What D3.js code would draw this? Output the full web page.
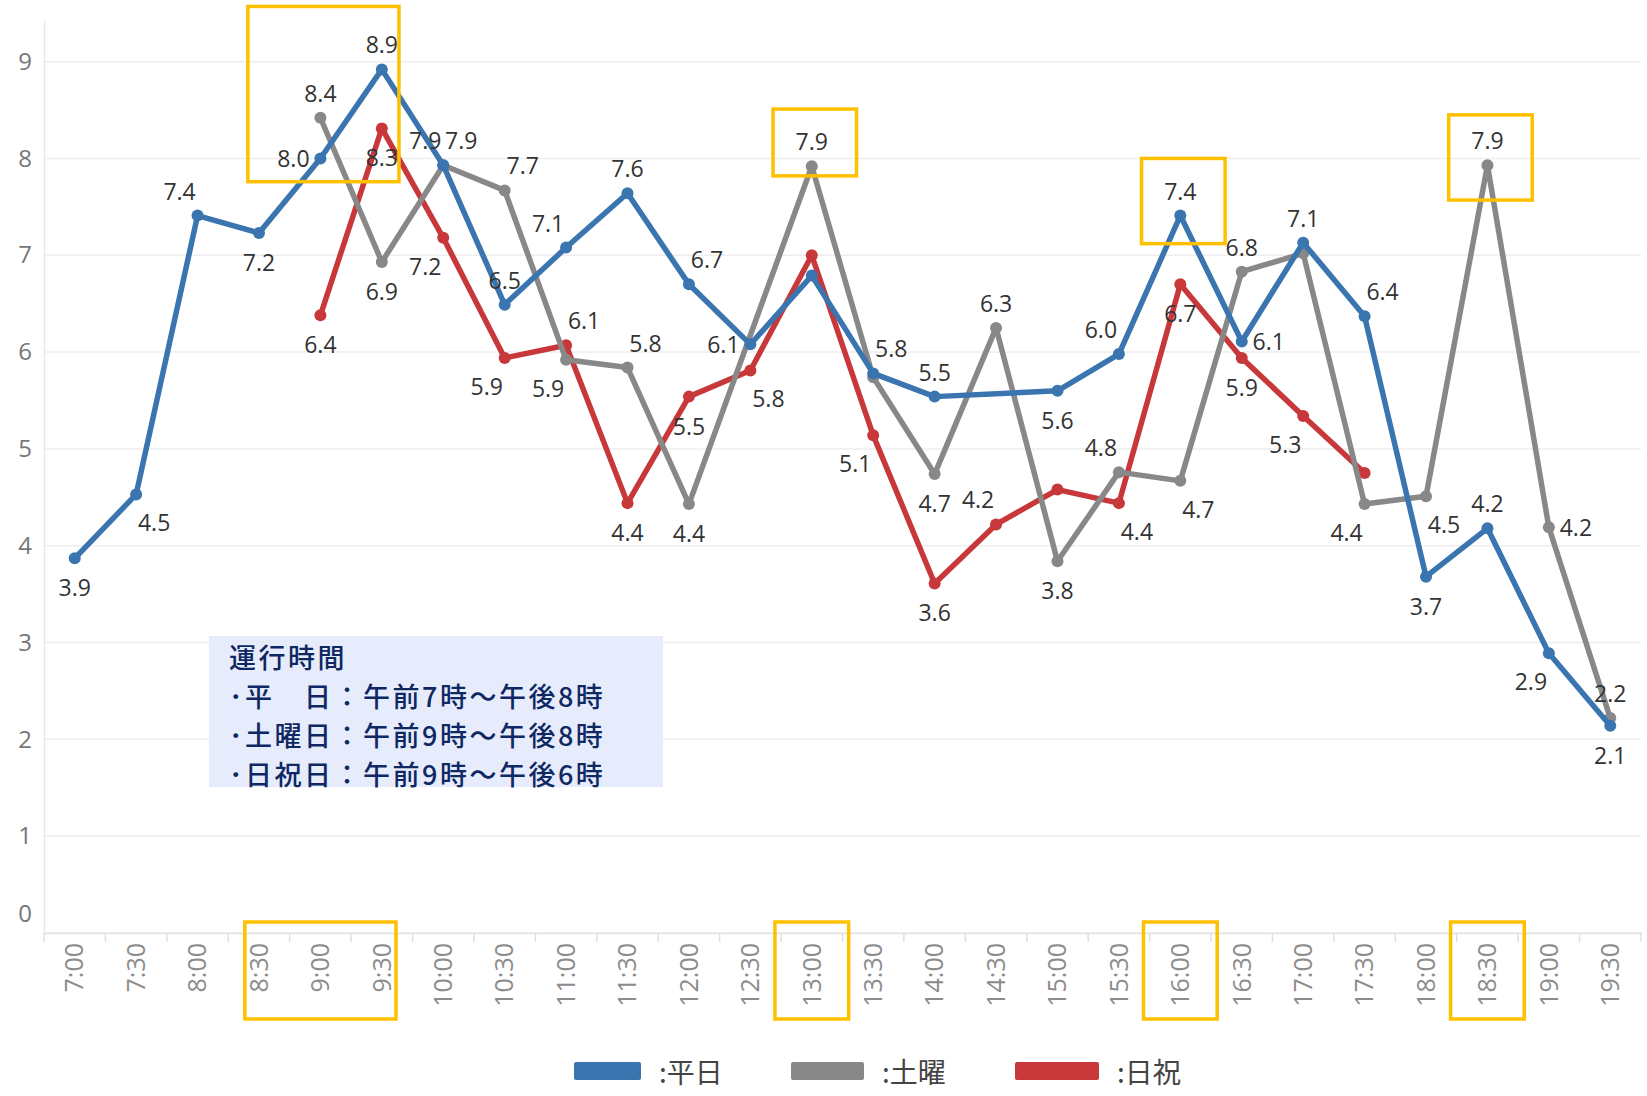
<!DOCTYPE html>
<html>
<head>
<meta charset="utf-8">
<script src="https://cdn.jsdelivr.net/npm/d3@7"></script>
<style>
  body { margin: 0; background: #fff; }
  .axis text { font-family: "Open Sans", sans-serif; }
  .label { font-family: "Open Sans", sans-serif; font-size: 23px; fill: #333; }
  .note, .legend text { font-family: "Noto Sans CJK JP", sans-serif; }
</style>
</head>
<body>
<div id="chart"></div>
<script>
// time slots on the x axis
var times = ["7:00", "7:30", "8:00", "8:30", "9:00", "9:30", "10:00", "10:30", "11:00", "11:30",
    "12:00", "12:30", "13:00", "13:30", "14:00", "14:30", "15:00", "15:30", "16:00", "16:30",
    "17:00", "17:30", "18:00", "18:30", "19:00", "19:30"];

// series values (null = no value for that slot)
var weekday = [3.87, 4.53, 7.41, 7.23, 8.0, 8.92, 7.93, 6.49, 7.08, 7.64, 6.7, 6.08, 6.79, 5.78,
    5.54, null, 5.6, 5.98, 7.41, 6.11, 7.13, 6.37, 3.68, 4.18, 2.89, 2.14];
var saturday = [null, null, null, null, 8.42, 6.93, 7.93, 7.67, 5.92, 5.84, 4.43, null, 7.92, 5.74,
    4.74, 6.25, 3.84, 4.76, 4.67, 6.83, 7.02, 4.43, 4.51, 7.93, 4.19, 2.22];
var holiday = [null, null, null, null, 6.38, 8.31, 7.18, 5.94, 6.07, 4.44, 5.54, 5.81, 7.0, 5.14,
    3.61, 4.22, 4.58, 4.44, 6.7, 5.94, 5.34, 4.75, null, null, null, null];

var seriesNames = ["平日", "土曜", "日祝"];
var yTicks = [0, 1, 2, 3, 4, 5, 6, 7, 8, 9];

var noteLines = ["運行時間", "･平　日：午前7時～午後8時", "･土曜日：午前9時～午後8時", "･日祝日：午前9時～午後6時"];

// highlighted slots (yellow frames)
var highlightTimes = ["9:00", "13:00", "16:00", "18:30"];
var highlightTop = [9.57, 8.51, 8.0, 8.45];
var highlightBottom = [7.76, 7.82, 7.12, 7.57];

// where each value label sits relative to its point
var weekdayLabelPos = ["b", "br", "tl", "b", "l", "t", "tl", "t", "tl", "t", "tr", "l", "", "tr",
    "t", "", "b", "tl", "t", "r", "t", "tr", "b", "t", "bl", "b"];
var saturdayLabelPos = ["", "", "", "", "t", "b", "tr", "tr", "bl", "tr", "b", "", "t", "",
    "b", "t", "b", "tl", "br", "t", "", "bl", "br", "t", "r", "t"];
var holidayLabelPos = ["", "", "", "", "b", "b", "bl", "bl", "tr", "b", "b", "br", "", "bl",
    "b", "tl", "", "br", "b", "b", "bl", "", "", "", "", ""];

var colors = ["#3a75af", "#888888", "#c8383a"];

var width = 1647, height = 1096;
var plotLeft = 44, plotRight = 1641, plotTop = 20, plotBottom = 933;

var svg = d3.select("#chart").append("svg")
    .attr("width", width)
    .attr("height", height);

var x = d3.scaleBand()
    .domain(times)
    .range([plotLeft, plotRight]);

var y = d3.scaleLinear()
    .domain([0, 9.43])
    .range([plotBottom, plotTop]);

function cx(t) {
    return x(t) + x.bandwidth() / 2;
}

// gridlines
svg.append("g")
    .selectAll("line")
    .data(yTicks)
    .enter()
    .append("line")
    .attr("x1", plotLeft)
    .attr("x2", plotRight)
    .attr("y1", function(d) { return y(d); })
    .attr("y2", function(d) { return y(d); })
    .attr("stroke", "#eeeeee")
    .attr("stroke-width", 1.5);

// y axis
var yAxisGroup = svg.append("g")
    .attr("class", "axis")
    .attr("transform", "translate(" + plotLeft + ",0)")
    .call(d3.axisLeft(y).tickValues(yTicks).tickSize(0).tickSizeOuter(0).tickPadding(12));

yAxisGroup.select(".domain").attr("stroke", "#e8e8e8").attr("stroke-width", 1.5);
yAxisGroup.selectAll("text")
    .attr("font-size", 24)
    .attr("fill", "#777");
yAxisGroup.selectAll(".tick")
    .filter(function(d) { return d === 0; })
    .select("text")
    .attr("y", -19);

// x axis
var xAxisGroup = svg.append("g")
    .attr("class", "axis")
    .attr("transform", "translate(0," + plotBottom + ")")
    .call(d3.axisBottom(x).tickSize(0).tickSizeOuter(0));

xAxisGroup.select(".domain").attr("stroke", "#e4e4e4").attr("stroke-width", 1.5);
xAxisGroup.selectAll("text")
    .attr("transform", "rotate(-90)")
    .attr("text-anchor", "end")
    .attr("x", -10)
    .attr("y", 0)
    .attr("dy", "0.35em")
    .attr("font-size", 25)
    .attr("fill", "#8c8c8c");

// separators between slots
svg.append("g")
    .selectAll("line")
    .data(times.concat(["end"]))
    .enter()
    .append("line")
    .attr("x1", function(d, i) { return plotLeft + i * x.step(); })
    .attr("x2", function(d, i) { return plotLeft + i * x.step(); })
    .attr("y1", plotBottom)
    .attr("y2", plotBottom + 9)
    .attr("stroke", "#e0e0e0")
    .attr("stroke-width", 1.5);

// operating hours note
var note = svg.append("g").attr("class", "note");
note.append("rect")
    .attr("x", 209)
    .attr("y", 636)
    .attr("width", 454)
    .attr("height", 151)
    .attr("fill", "#e6ecfb");
note.selectAll("text")
    .data(noteLines)
    .enter()
    .append("text")
    .attr("x", 229)
    .attr("y", function(d, i) { return 656 + i * 39; })
    .attr("dominant-baseline", "central")
    .attr("font-size", 27)
    .attr("font-weight", 500)
    .attr("letter-spacing", 2.5)
    .attr("fill", "#0f2864")
    .text(function(d) { return d; });

// lines, drawn holiday -> saturday -> weekday
var series = [
    {name: seriesNames[2], values: holiday, pos: holidayLabelPos, color: colors[2]},
    {name: seriesNames[1], values: saturday, pos: saturdayLabelPos, color: colors[1]},
    {name: seriesNames[0], values: weekday, pos: weekdayLabelPos, color: colors[0]}
];

series.forEach(function(s) {
    s.points = times.map(function(t, i) {
        return {t: t, v: s.values[i], pos: s.pos[i]};
    }).filter(function(d) { return d.v != null; });
});

var line = d3.line()
    .x(function(d) { return cx(d.t); })
    .y(function(d) { return y(d.v); });

series.forEach(function(s) {
    var g = svg.append("g");
    g.append("path")
        .datum(s.points)
        .attr("d", line)
        .attr("fill", "none")
        .attr("stroke", s.color)
        .attr("stroke-width", 5.5)
        .attr("stroke-linejoin", "round")
        .attr("stroke-linecap", "round");
    g.selectAll("circle")
        .data(s.points)
        .enter()
        .append("circle")
        .attr("cx", function(d) { return cx(d.t); })
        .attr("cy", function(d) { return y(d.v); })
        .attr("r", 6)
        .attr("fill", s.color);
});

// value labels
var offsets = {
    t: [0, -25], b: [0, 29], l: [-27, 0], r: [27, 0],
    tl: [-18, -25], tr: [18, -25], bl: [-18, 28], br: [18, 28]
};
var fmt = d3.format(".1f");

series.forEach(function(s) {
    svg.append("g")
        .selectAll("text")
        .data(s.points.filter(function(d) { return d.pos !== ""; }))
        .enter()
        .append("text")
        .attr("class", "label")
        .attr("x", function(d) { return cx(d.t) + offsets[d.pos][0]; })
        .attr("y", function(d) { return y(d.v) + offsets[d.pos][1]; })
        .attr("text-anchor", "middle")
        .attr("dominant-baseline", "central")
        .text(function(d) { return fmt(d.v); });
});

// yellow frames around the peaks and their time labels
var frameHalf = [1.23, 0.68, 0.68, 0.68];
var tickFrameHalf = [1.23, 0.6, 0.6, 0.6];
var frames = svg.append("g");

highlightTimes.forEach(function(t, i) {
    frames.append("rect")
        .attr("x", cx(t) + 3 - frameHalf[i] * x.step())
        .attr("y", y(highlightTop[i]))
        .attr("width", 2 * frameHalf[i] * x.step())
        .attr("height", y(highlightBottom[i]) - y(highlightTop[i]))
        .attr("fill", "none")
        .attr("stroke", "#ffc000")
        .attr("stroke-width", 3.5);
    frames.append("rect")
        .attr("x", cx(t) - tickFrameHalf[i] * x.step())
        .attr("y", plotBottom - 11)
        .attr("width", 2 * tickFrameHalf[i] * x.step())
        .attr("height", 97)
        .attr("fill", "none")
        .attr("stroke", "#ffc000")
        .attr("stroke-width", 3.5);
});

// legend
var legendX = [574, 791, 1015];
var legendW = [67, 73, 84];
var legend = svg.append("g").attr("class", "legend");

seriesNames.forEach(function(name, i) {
    legend.append("rect")
        .attr("x", legendX[i])
        .attr("y", 1062)
        .attr("width", legendW[i])
        .attr("height", 18)
        .attr("rx", 2)
        .attr("fill", colors[i]);
    legend.append("text")
        .attr("x", legendX[i] + legendW[i] + 18)
        .attr("y", 1071)
        .attr("dominant-baseline", "central")
        .attr("font-size", 28)
        .attr("fill", "#444")
        .text(":" + name);
});
</script>
</body>
</html>
